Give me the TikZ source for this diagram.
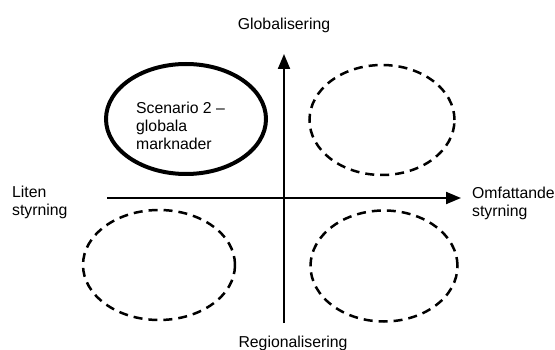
\documentclass[tikz,border=0pt]{standalone}
\usepackage{fontspec}
\setmainfont{Liberation Sans}
\usetikzlibrary{arrows.meta,shapes.geometric}
\begin{document}
\begin{tikzpicture}[x=1pt,y=-1pt,
  lbl/.style={inner sep=0pt,font=\fontsize{15.8}{18}\selectfont,align=left},
  axis/.style={line width=2pt,-{Triangle[length=15pt,width=12pt]}},
  dashell/.style={ellipse,draw,line width=2.5pt,dash pattern=on 9pt off 6pt,inner sep=0pt},
  solidell/.style={ellipse,draw,line width=4pt,inner sep=0pt}]
\useasboundingbox (0,0) rectangle (555,350);
% ellipses
\node[solidell,minimum width=160pt,minimum height=110pt] (s2) at (186,119) {};
\node[dashell,minimum width=145pt,minimum height=110pt] (tr) at (382,120) {};
\node[dashell,minimum width=152pt,minimum height=110pt] (bl) at (159,265) {};
\node[dashell,minimum width=147pt,minimum height=111pt] (br) at (384,266) {};
% axes
\coordinate (hs) at (107,198);
\coordinate (he) at (461,198);
\coordinate (vs) at (284,323);
\coordinate (ve) at (284,54);
\draw[axis] (hs) -- (he);
\draw[axis] (vs) -- (ve);
% labels
\node[lbl,anchor=base] (glob) at (284,30) {Globalisering};
\node[lbl,anchor=base] (reg) at (293,347) {Regionalisering};
\node[lbl,anchor=north west] (lit) at (12,186) {Liten\\styrning};
\node[lbl,anchor=north west] (omf) at (472,187) {Omfattande\\styrning};
\node[lbl,anchor=north west] (sc) at (136,102) {Scenario 2 –\\globala\\marknader};
\end{tikzpicture}
\end{document}
